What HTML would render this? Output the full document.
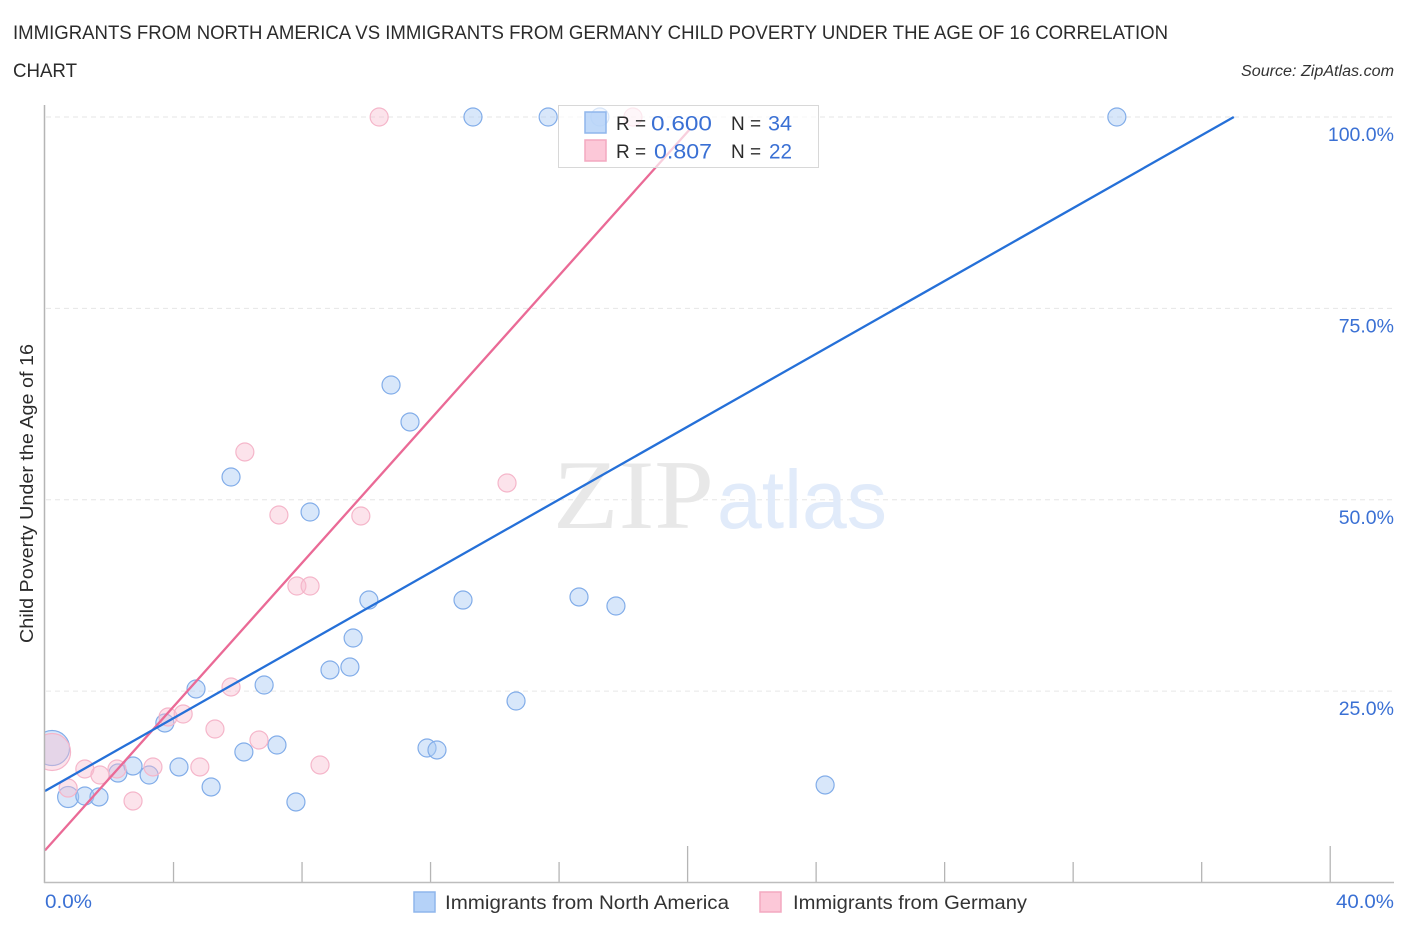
<!DOCTYPE html>
<html lang="en">
<head>
<meta charset="utf-8">
<title>Immigrants from North America vs Immigrants from Germany Child Poverty Correlation Chart</title>
<style>
html,body{margin:0;padding:0;background:#fff;width:1406px;height:930px;overflow:hidden}
svg{display:block;font-family:"Liberation Sans",sans-serif}
</style>
</head>
<body>
<svg id="chart" xmlns="http://www.w3.org/2000/svg" width="1406" height="930" viewBox="0 0 1406 930">
  <text x="13" y="39" font-size="19" fill="#2b2b2b" textLength="1155" lengthAdjust="spacingAndGlyphs">IMMIGRANTS FROM NORTH AMERICA VS IMMIGRANTS FROM GERMANY CHILD POVERTY UNDER THE AGE OF 16 CORRELATION</text>
  <text x="13" y="77" font-size="19" fill="#2b2b2b" textLength="64" lengthAdjust="spacingAndGlyphs">CHART</text>
  <text x="1394" y="76" font-size="15.5" font-style="italic" fill="#333" text-anchor="end" textLength="153" lengthAdjust="spacingAndGlyphs">Source: ZipAtlas.com</text>

  <g id="grid"></g>

  <g>
    <text x="553" y="528" font-family="'Liberation Serif',serif" font-size="99" fill="#e8e8e8" textLength="161" lengthAdjust="spacingAndGlyphs">ZIP</text>
    <text x="717" y="528" font-size="83" fill="#e1ebfa" textLength="170" lengthAdjust="spacingAndGlyphs">atlas</text>
  </g>

  <g id="xticks"></g>
  <g id="ylabels"></g>

  <g id="points-blue"></g>
  <g id="points-pink"></g>
  <g id="trends"></g>

  <rect x="0" y="700" width="45" height="100" fill="#fff"/>
  <g id="axes">
    <line x1="44.5" y1="105" x2="44.5" y2="883" stroke="#b5b5b5" stroke-width="1.5"/>
    <line x1="44" y1="882.5" x2="1394" y2="882.5" stroke="#bdbdbd" stroke-width="1.5"/>
  </g>

  <text transform="translate(33,643) rotate(-90)" font-size="18.5" fill="#2b2b2b" textLength="299" lengthAdjust="spacingAndGlyphs">Child Poverty Under the Age of 16</text>
  <text x="45" y="908" font-size="19.5" fill="#3a70d4" textLength="47" lengthAdjust="spacingAndGlyphs">0.0%</text>
  <text x="1394" y="908" font-size="19.5" fill="#3a70d4" text-anchor="end" textLength="58" lengthAdjust="spacingAndGlyphs">40.0%</text>

  <g>
    <rect x="558.5" y="105.5" width="260" height="62" fill="#fff" fill-opacity="0.68" stroke="#d8d8d8" stroke-width="1"/>
    <rect x="585" y="112" width="21" height="21" fill="#b5d2f8" fill-opacity="0.85" stroke="#8fb6ec" stroke-width="1.5"/>
    <rect x="585" y="140" width="21" height="21" fill="#fcc8d8" stroke="#f3a9c0" stroke-width="1.5"/>
    <text x="616" y="130" font-size="19" fill="#2b2b2b">R =</text>
    <text x="651" y="130.5" font-size="21.5" fill="#3a70d4" textLength="61" lengthAdjust="spacingAndGlyphs">0.600</text>
    <text x="731" y="130" font-size="19" fill="#2b2b2b">N =</text>
    <text x="768" y="130.5" font-size="21" fill="#3a70d4" textLength="24" lengthAdjust="spacingAndGlyphs">34</text>
    <text x="616" y="158" font-size="19" fill="#2b2b2b">R =</text>
    <text x="654" y="158.5" font-size="21.5" fill="#3a70d4" textLength="58" lengthAdjust="spacingAndGlyphs">0.807</text>
    <text x="731" y="158" font-size="19" fill="#2b2b2b">N =</text>
    <text x="769" y="158.5" font-size="21" fill="#3a70d4" textLength="23" lengthAdjust="spacingAndGlyphs">22</text>
  </g>

  <g>
    <rect x="414" y="892" width="21" height="20" fill="#b5d2f8" stroke="#8fb6ec" stroke-width="1.5"/>
    <text x="445" y="909" font-size="19" fill="#333" textLength="284" lengthAdjust="spacingAndGlyphs">Immigrants from North America</text>
    <rect x="760" y="892" width="21" height="20" fill="#fcc8d8" stroke="#f3a9c0" stroke-width="1.5"/>
    <text x="793" y="909" font-size="19" fill="#333" textLength="234" lengthAdjust="spacingAndGlyphs">Immigrants from Germany</text>
  </g>
</svg>

<script>
const yTickValues = [25, 50, 75, 100];
const yTickLabels = ["25.0%", "50.0%", "75.0%", "100.0%"];
const xTickValues = [4, 8, 12, 16, 20, 24, 28, 32, 36, 40];
const xMajorTicks = [20, 40];

const blueX = [0.22,0.72,1.24,1.68,2.27,2.74,3.24,3.73,4.17,4.70,5.17,5.79,6.19,6.82,7.22,7.81,8.25,8.87,9.49,9.59,10.08,10.77,11.36,11.89,12.20,13.01,13.32,14.66,15.66,16.62,17.27,17.77,24.28,33.36];
const blueY = [17.57,11.17,11.30,11.17,14.30,15.22,14.04,20.84,15.09,25.28,12.48,52.97,17.05,25.80,17.96,10.52,48.40,27.76,28.15,31.94,36.90,64.99,60.16,17.57,17.31,36.90,100,23.71,100,37.30,100,36.12,12.74,100];
const blueSize = [17.5,10.5,9,9,9,9,9,9,9,9,9,9,9,9,9,9,9,9,9,9,9,9,9,9,9,9,9,9,9,9,9,9,9,9];

const pinkX = [0.22,0.72,1.24,1.71,2.24,2.74,3.36,3.83,4.30,4.82,5.29,5.79,6.22,6.66,7.28,7.84,8.25,8.56,9.83,10.40,14.38,18.30];
const pinkY = [17.05,12.34,14.83,14.04,14.83,10.65,15.09,21.62,22.01,15.09,20.05,25.54,56.24,18.62,48.01,38.73,38.73,15.35,47.88,100,52.19,100];
const pinkSize = [18.5,9,9,9,9,9,9,9,9,9,9,9,9,9,9,9,9,9,9,9,9,9];

const blueTrendX = [0, 37.0];
const blueTrendY = [11.95, 100];
const pinkTrendX = [0, 20.07];
const pinkTrendY = [4.2, 98.4];

const SVG_NS = "http://www.w3.org/2000/svg";
function xScale(v) { return 45 + v * 32.13; }
function yScale(v) { return 882.5 - v * 7.655; }
function make(tag, attrs) {
  const el = document.createElementNS(SVG_NS, tag);
  for (const k in attrs) el.setAttribute(k, attrs[k]);
  return el;
}

const grid = document.getElementById("grid");
const ylabels = document.getElementById("ylabels");
yTickValues.forEach(function (v, i) {
  const y = yScale(v);
  const line = make("line", {x1: 46, x2: 1394, y1: y, y2: y, stroke: "#e6e6e6", "stroke-width": 1, "stroke-dasharray": "5 4"});
  
  
  grid.appendChild(line);
  const t = make("text", {x: 1394, y: y + 24, "text-anchor": "end", "font-size": 19.5, fill: "#3a70d4"});
  
  
  t.textContent = yTickLabels[i];
  ylabels.appendChild(t);
});

const xticks = document.getElementById("xticks");
xTickValues.forEach(function (v) {
  const x = xScale(v);
  const top = xMajorTicks.indexOf(v) >= 0 ? 846 : 862;
  const tick = make("line", {x1: x, x2: x, y1: top, y2: 882, stroke: "#b5b5b5", "stroke-width": 1.3});
  
  
  xticks.appendChild(tick);
});

const blueGroup = document.getElementById("points-blue");
blueX.forEach(function (v, i) {
  const c = make("circle", {cx: xScale(v), cy: yScale(blueY[i]), r: blueSize[i], fill: "#a9c9f3", "fill-opacity": 0.45, stroke: "#82ade9", "stroke-width": 1.2});
  
  
  blueGroup.appendChild(c);
});

const pinkGroup = document.getElementById("points-pink");
pinkX.forEach(function (v, i) {
  const c = make("circle", {cx: xScale(v), cy: yScale(pinkY[i]), r: pinkSize[i], fill: "#f9bcd0", "fill-opacity": 0.42, stroke: "#f5b6ca", "stroke-width": 1.2});
  
  
  pinkGroup.appendChild(c);
});

const trends = document.getElementById("trends");
const pinkLine = make("line", {x1: xScale(pinkTrendX[0]), y1: yScale(pinkTrendY[0]), x2: xScale(pinkTrendX[1]), y2: yScale(pinkTrendY[1]), stroke: "#ea6a96", "stroke-width": 2.3});


trends.appendChild(pinkLine);
const blueLine = make("line", {x1: xScale(blueTrendX[0]), y1: yScale(blueTrendY[0]), x2: xScale(blueTrendX[1]), y2: yScale(blueTrendY[1]), stroke: "#2570d8", "stroke-width": 2.3});


trends.appendChild(blueLine);
</script>
</body>
</html>
